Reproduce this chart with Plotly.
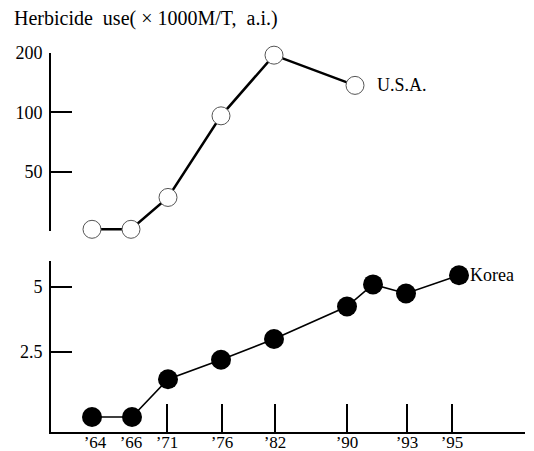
import plotly.graph_objects as go

# ---- data ----
tick_labels = ["’64", "’66", "’71", "’76", "’82", "’90", "’93", "’95"]
tick_pos = [45, 81, 117, 172, 225, 297, 357, 402]          # positions on the (non-linear) drawn year axis
marked_ticks = [117, 172, 225, 297, 357, 402]              # ticks drawn with a tick mark

usa_pos = [42, 81, 118, 171, 224, 305]
usa_vals = [25.5, 25.5, 37, 96, 195, 137]                  # x1000 M/T a.i.

korea_pos = [42, 82, 118, 171, 224, 297, 323, 356, 409]
korea_vals = [0.0, 0.0, 1.45, 2.2, 3.0, 4.25, 5.1, 4.75, 5.45]

W, H = 534, 451
FONT = "Liberation Serif"
NB = "\u00a0"

fig = go.Figure()
fig.add_trace(go.Scatter(
    x=usa_pos, y=usa_vals, xaxis="x", yaxis="y2", mode="lines+markers",
    line=dict(color="black", width=2.5),
    marker=dict(size=18, color="white", line=dict(color="#555", width=1)),
    cliponaxis=False, showlegend=False, hoverinfo="skip"))
fig.add_trace(go.Scatter(
    x=korea_pos, y=korea_vals, xaxis="x", yaxis="y", mode="lines+markers",
    line=dict(color="black", width=1.6),
    marker=dict(size=20, color="black"),
    cliponaxis=False, showlegend=False, hoverinfo="skip"))
# invisible trace to activate tick-mark axis
fig.add_trace(go.Scatter(x=[tick_pos[0]], y=[0], xaxis="x2", yaxis="y",
                         mode="markers", marker=dict(opacity=0), showlegend=False,
                         hoverinfo="skip"))

def py(px):
    return (H - px) / H

xdom = [51 / W, 525 / W]
xrange = [1, 475]

fig.update_layout(
    template="none",
    width=W, height=H, margin=dict(l=0, r=0, t=0, b=0, pad=0, autoexpand=False),
    paper_bgcolor="white", plot_bgcolor="white",
    font=dict(family=FONT, color="black", size=18),
    xaxis=dict(domain=xdom, range=xrange, anchor="y", automargin=False,
               tickvals=tick_pos, ticktext=tick_labels, ticks="",
               ticklabelstandoff=-6,
               showline=True, linecolor="black", linewidth=2,
               showgrid=False, zeroline=False,
               tickfont=dict(family=FONT, size=17)),
    xaxis2=dict(domain=xdom, range=xrange, anchor="y", overlaying="x", automargin=False,
                tickvals=marked_ticks, ticks="inside", ticklen=28, tickwidth=2,
                tickcolor="black", showticklabels=False, showline=False,
                showgrid=False, zeroline=False),
    yaxis=dict(domain=[py(432), py(261)], range=[-0.577, 6.0], automargin=False,
               tickvals=[2.5, 5], ticktext=["2.5", "5"], ticks="inside",
               ticklen=21, tickwidth=2, tickcolor="black", ticklabelstandoff=3,
               showline=True, linecolor="black", linewidth=2,
               showgrid=False, zeroline=False, anchor="x",
               tickfont=dict(family=FONT, size=18)),
    yaxis2=dict(domain=[py(231), py(53)], type="log", automargin=False,
                range=[1.39794, 2.30103],
                tickvals=[25, 50, 100, 200], ticktext=["", "50", "100", "200"],
                ticks="inside", ticklen=21, tickwidth=2, tickcolor="black", ticklabelstandoff=3,
                showline=True, linecolor="black", linewidth=2,
                showgrid=False, zeroline=False, anchor="x",
                tickfont=dict(family=FONT, size=18)),
    annotations=[
        dict(text=f"Herbicide{NB}{NB}use({NB}×{NB}1000M/T,{NB}{NB}a.i.)", xref="paper", yref="paper",
             x=12 / W, y=py(18), xanchor="left", yanchor="middle",
             showarrow=False, font=dict(family=FONT, size=20)),
        dict(text="U.S.A.", xref="x", yref="y2", x=usa_pos[-1], y=2.137,
             xshift=20, xanchor="left", yanchor="middle", showarrow=False,
             font=dict(family=FONT, size=18)),
        dict(text="Korea", xref="x", yref="y", x=korea_pos[-1], y=korea_vals[-1],
             xshift=9, xanchor="left", yanchor="middle", showarrow=False,
             font=dict(family=FONT, size=18)),
    ],
)

fig.write_html("out.html", config={"displayModeBar": False},
               post_script="document.body.style.margin='0';")
